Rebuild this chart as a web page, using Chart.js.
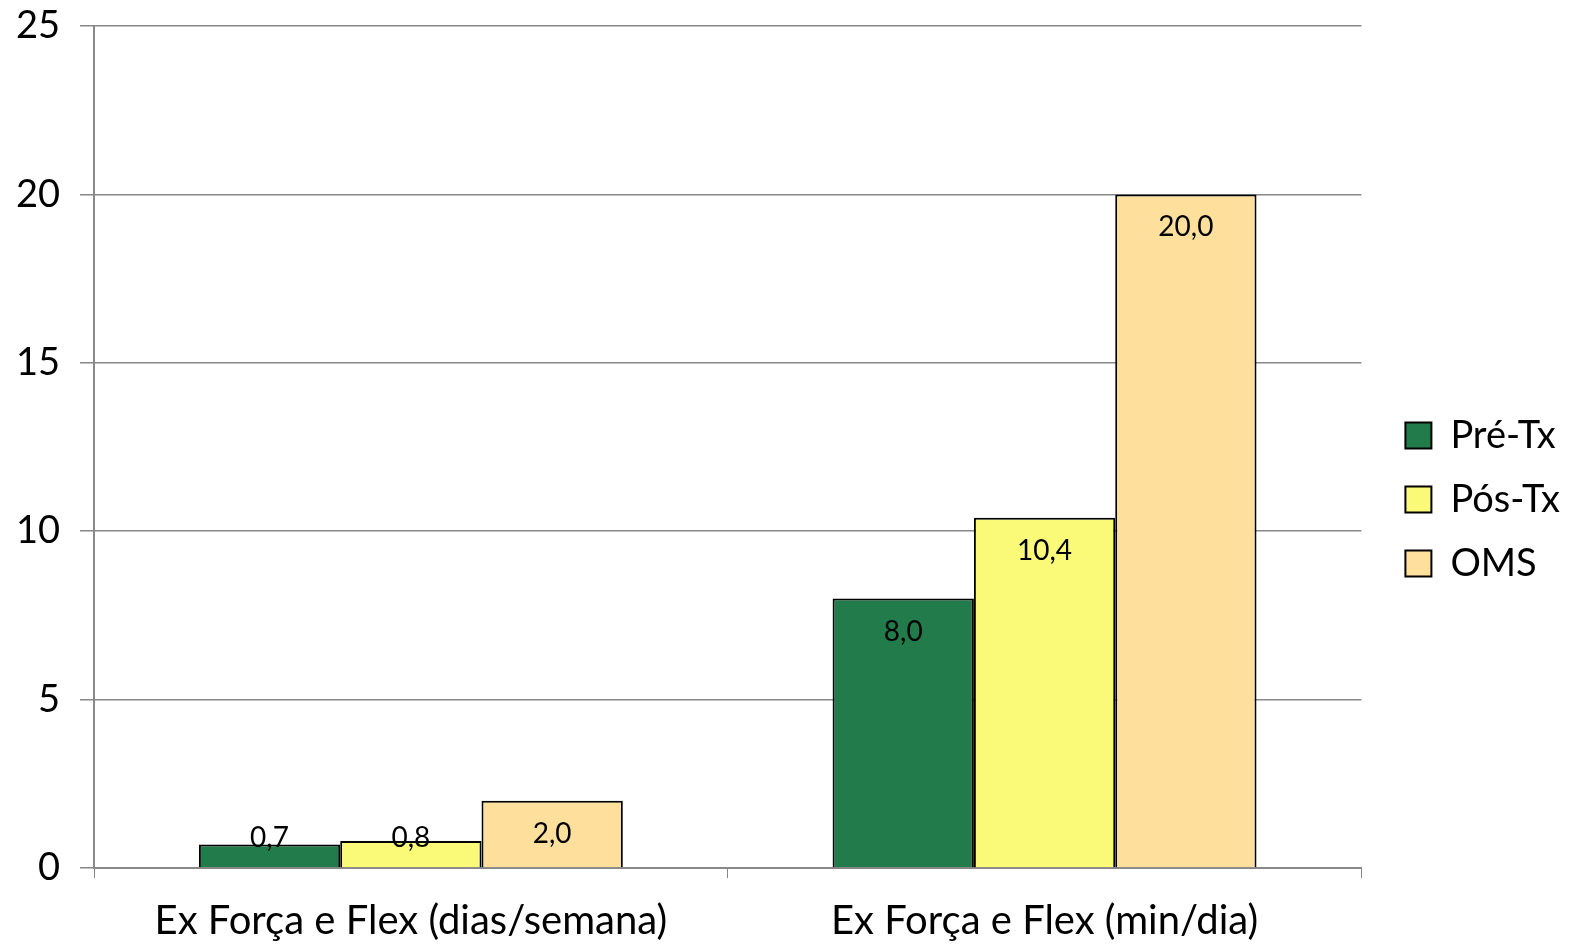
<!DOCTYPE html>
<html>
<head>
<meta charset="utf-8">
<script src="https://cdn.jsdelivr.net/npm/chart.js@4.4.0/dist/chart.umd.min.js"></script>
<style>
  html, body { margin: 0; padding: 0; background: #fff; }
  #wrap { width: 1582px; height: 945px; }
</style>
</head>
<body>
<div id="wrap"><canvas id="chart" width="1582" height="945"></canvas></div>
<script>
const categories = ["Ex Força e Flex (dias/semana)", "Ex Força e Flex (min/dia)"];
const seriesNames = ["Pré-Tx", "Pós-Tx", "OMS"];
const preTx = [0.7, 8.0];
const posTx = [0.8, 10.4];
const oms = [2.0, 20.0];
const seriesColors = ["#217b4b", "#fafa78", "#fedf9c"];

const fontFamily = "Lato, 'Open Sans', sans-serif";

// valeurs écrites dans les barres
const barLabels = {
    id: 'barLabels',
    afterDatasetsDraw(chart) {
        const ctx = chart.ctx;
        ctx.save();
        ctx.font = "28px " + fontFamily;
        ctx.fillStyle = "#000";
        ctx.textAlign = "center";
        ctx.textBaseline = "middle";
        chart.data.datasets.forEach((ds, i) => {
            const meta = chart.getDatasetMeta(i);
            meta.data.forEach((bar, j) => {
                const y = Math.min(bar.y + 33, bar.base - 29);
                ctx.fillText(ds.data[j].toFixed(1).replace('.', ','), bar.x, y);
            });
        });
        ctx.restore();
    }
};

// décale la légende un peu vers la droite
const legendShift = {
    id: 'legendShift',
    afterLayout(chart) {
        if (chart.legend) {
            chart.legend.left += 18;
            chart.legend.right += 18;
        }
    }
};

const datasets = [preTx, posTx, oms].map((d, i) => ({
    label: seriesNames[i],
    data: d,
    backgroundColor: seriesColors[i],
    borderColor: "#000",
    borderWidth: 2
}));

new Chart(document.getElementById("chart"), {
    type: 'bar',
    data: { labels: categories, datasets: datasets },
    plugins: [barLabels, legendShift],
    options: {
        responsive: false,
        animation: false,
        layout: { padding: { right: 30 } },
        categoryPercentage: 0.669,
        barPercentage: 1,
        plugins: {
            tooltip: { enabled: false },
            legend: {
                position: 'right',
                title: { display: true, text: ' ', font: { size: 20 }, padding: 15 },
                labels: {
                    boxWidth: 26,
                    boxHeight: 26,
                    padding: 26,
                    color: "#000",
                    font: { family: fontFamily, size: 38 }
                }
            }
        },
        scales: {
            x: {
                grid: { display: true, drawOnChartArea: false, offset: true, color: "#888", tickLength: 10 },
                border: { color: "#888", width: 2 },
                ticks: { color: "#000", padding: 19, font: { family: fontFamily, size: 40 } },
                afterFit: (s) => { s.height = 77; }
            },
            y: {
                min: 0,
                max: 25,
                ticks: { stepSize: 5, color: "#000", padding: 20, font: { family: fontFamily, size: 38 } },
                grid: { color: "#888", tickLength: 14, lineWidth: 1.5 },
                border: { color: "#888", width: 2 },
                afterFit: (s) => { s.width = 94; s.paddingTop = 26; }
            }
        }
    }
});
</script>
</body>
</html>
